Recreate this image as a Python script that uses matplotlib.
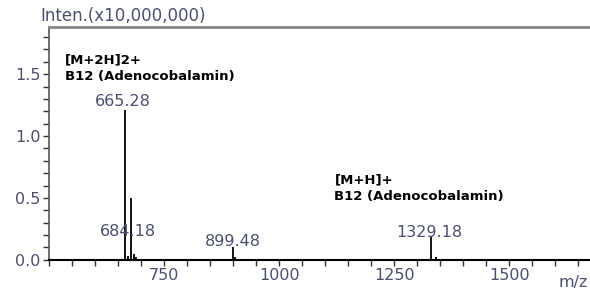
import matplotlib.pyplot as plt
from matplotlib.ticker import MultipleLocator

# peak list (m/z, intensity in units of 1e7)
mz = [637.0, 665.28, 671.0, 678.0, 684.18, 690.0, 700.0, 712.0,
      899.48, 905.0, 918.0, 1329.18, 1340.0, 1522.0]
inten = [0.01, 1.21, 0.03, 0.50, 0.05, 0.02, 0.01, 0.01,
         0.10, 0.02, 0.01, 0.19, 0.02, 0.01]

# labelled peaks
lab_mz = [665.28, 684.18, 899.48, 1329.18]
lab_txt = ['665.28', '684.18', '899.48', '1329.18']

xticks = [750, 1000, 1250, 1500]
yticks = [0.0, 0.5, 1.0, 1.5]

tcol = '#4a4f72'

fig = plt.figure(figsize=(5.9, 2.91), dpi=100)
ax = fig.add_axes([0.083, 0.107, 0.917, 0.8])

ax.vlines(mz, 0, inten, color='black', lw=1.3)

ax.set_xlim(500, 1675)
ax.set_ylim(0, 1.88)
ax.set_xticks(xticks)
ax.set_yticks(yticks)
ax.set_yticklabels(['%.1f' % v for v in yticks])
ax.xaxis.set_minor_locator(MultipleLocator(50))
ax.yaxis.set_minor_locator(MultipleLocator(0.1))
ax.tick_params(axis='both', which='both', length=4, width=1, colors='#333333',
               labelcolor=tcol, labelsize=11.5, pad=2)

ax.spines['right'].set_visible(False)
ax.spines['top'].set_color('#888888')
ax.spines['top'].set_linewidth(2)
ax.spines['left'].set_color('#555555')
ax.spines['left'].set_linewidth(1.2)
ax.spines['bottom'].set_linewidth(1.5)

# peak labels
ax.text(lab_mz[0] - 5, inten[1] + 0.01, lab_txt[0], ha='center', va='bottom',
        color=tcol, fontsize=11.5)
ax.text(lab_mz[1] - 13, 0.17, lab_txt[1], ha='center', va='bottom',
        color=tcol, fontsize=11.5)
ax.text(lab_mz[2], inten[8] - 0.01, lab_txt[2], ha='center', va='bottom',
        color=tcol, fontsize=11.5)
ax.text(lab_mz[3] - 3, inten[11] - 0.03, lab_txt[3], ha='center', va='bottom',
        color=tcol, fontsize=11.5)

ax.text(535, 1.55, '[M+2H]2+\nB12 (Adenocobalamin)', ha='left', va='center',
        fontsize=9.5, fontweight='bold', linespacing=1.35)
ax.text(1120, 0.58, '[M+H]+\nB12 (Adenocobalamin)', ha='left', va='center',
        fontsize=9.5, fontweight='bold', linespacing=1.35)

fig.text(0.068, 0.945, 'Inten.(x10,000,000)', ha='left', va='center',
         color=tcol, fontsize=12)
fig.text(0.972, 0.03, 'm/z', ha='center', va='center', color=tcol, fontsize=11.5)

fig.savefig('out.png', dpi=100)
